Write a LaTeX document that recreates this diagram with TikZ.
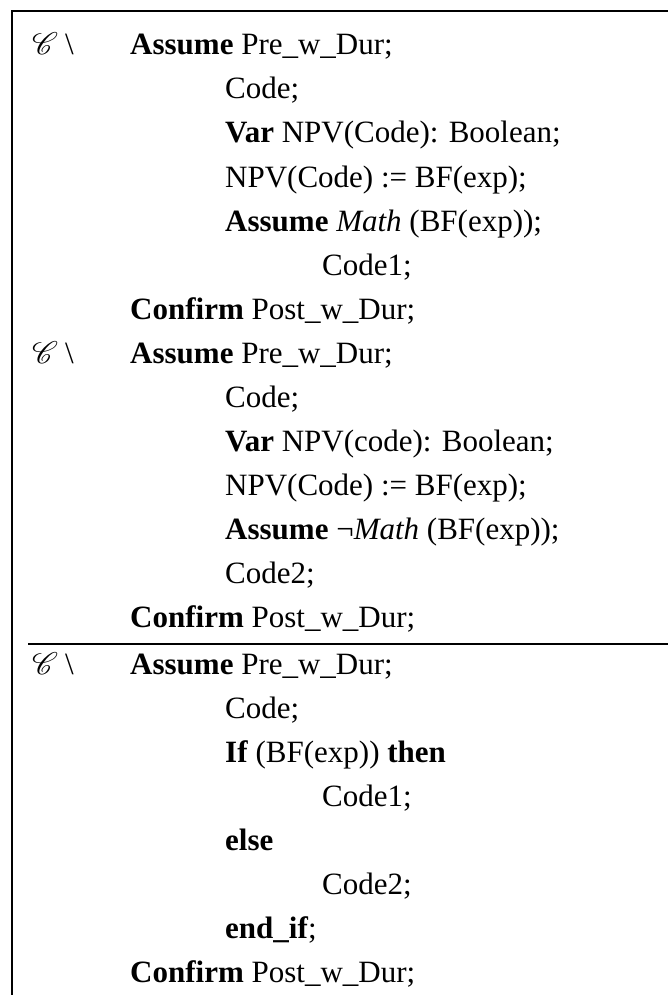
\documentclass[tikz,border=0pt]{standalone}
\usepackage{fontspec}
\usepackage{mathrsfs}
\usepackage{graphicx}
\setmainfont{Liberation Serif}
\newcommand{\ctxmark}{\scalebox{1.25}{$\mathscr{C}$}\hspace{7pt}\textbackslash}
\begin{document}
\begin{tikzpicture}[x=1pt,y=-1pt,
  ln/.style={anchor=base west,inner sep=0pt,font=\fontsize{31}{37}\selectfont},
  frame/.style={line width=2pt}]
\useasboundingbox (0,0) rectangle (668,995);
\def\ls{44}
\def\yb{674}
% outer frame: left and top edges
\draw[frame] (12,995) -- (12,11) -- (668,11);
% separator between the two cases and their combination
\draw[frame] (28,644) -- (668,644);

% first case
\node[ln] (c1) at (32,55) {\ctxmark};
\node[ln] (a1) at (130,55) {\textbf{Assume} Pre\_w\_Dur;};
\node[ln] (a2) at (225,55+1*\ls) {Code;};
\node[ln] (a3) at (225,55+2*\ls) {\textbf{Var} NPV(Code): Boolean;};
\node[ln] (a4) at (225,55+3*\ls) {NPV(Code) := BF(exp);};
\node[ln] (a5) at (225,55+4*\ls) {\textbf{Assume} \textit{Math} (BF(exp));};
\node[ln] (a6) at (322,55+5*\ls) {Code1;};
\node[ln] (a7) at (130,55+6*\ls) {\textbf{Confirm} Post\_w\_Dur;};

% second case
\node[ln] (c2) at (32,55+7*\ls) {\ctxmark};
\node[ln] (b1) at (130,55+7*\ls) {\textbf{Assume} Pre\_w\_Dur;};
\node[ln] (b2) at (225,55+8*\ls) {Code;};
\node[ln] (b3) at (225,55+9*\ls) {\textbf{Var} NPV(code): Boolean;};
\node[ln] (b4) at (225,55+10*\ls) {NPV(Code) := BF(exp);};
\node[ln] (b5) at (225,55+11*\ls) {\textbf{Assume} ¬\textit{Math} (BF(exp));};
\node[ln] (b6) at (225,55+12*\ls) {Code2;};
\node[ln] (b7) at (130,55+13*\ls) {\textbf{Confirm} Post\_w\_Dur;};

% combined program
\node[ln] (c3) at (32,\yb) {\ctxmark};
\node[ln] (d1) at (130,\yb) {\textbf{Assume} Pre\_w\_Dur;};
\node[ln] (d2) at (225,\yb+1*\ls) {Code;};
\node[ln] (d3) at (225,\yb+2*\ls) {\textbf{If} (BF(exp)) \textbf{then}};
\node[ln] (d4) at (322,\yb+3*\ls) {Code1;};
\node[ln] (d5) at (225,\yb+4*\ls) {\textbf{else}};
\node[ln] (d6) at (322,\yb+5*\ls) {Code2;};
\node[ln] (d7) at (225,\yb+6*\ls) {\textbf{end\_if};};
\node[ln] (d8) at (130,\yb+7*\ls) {\textbf{Confirm} Post\_w\_Dur;};
\end{tikzpicture}
\end{document}
